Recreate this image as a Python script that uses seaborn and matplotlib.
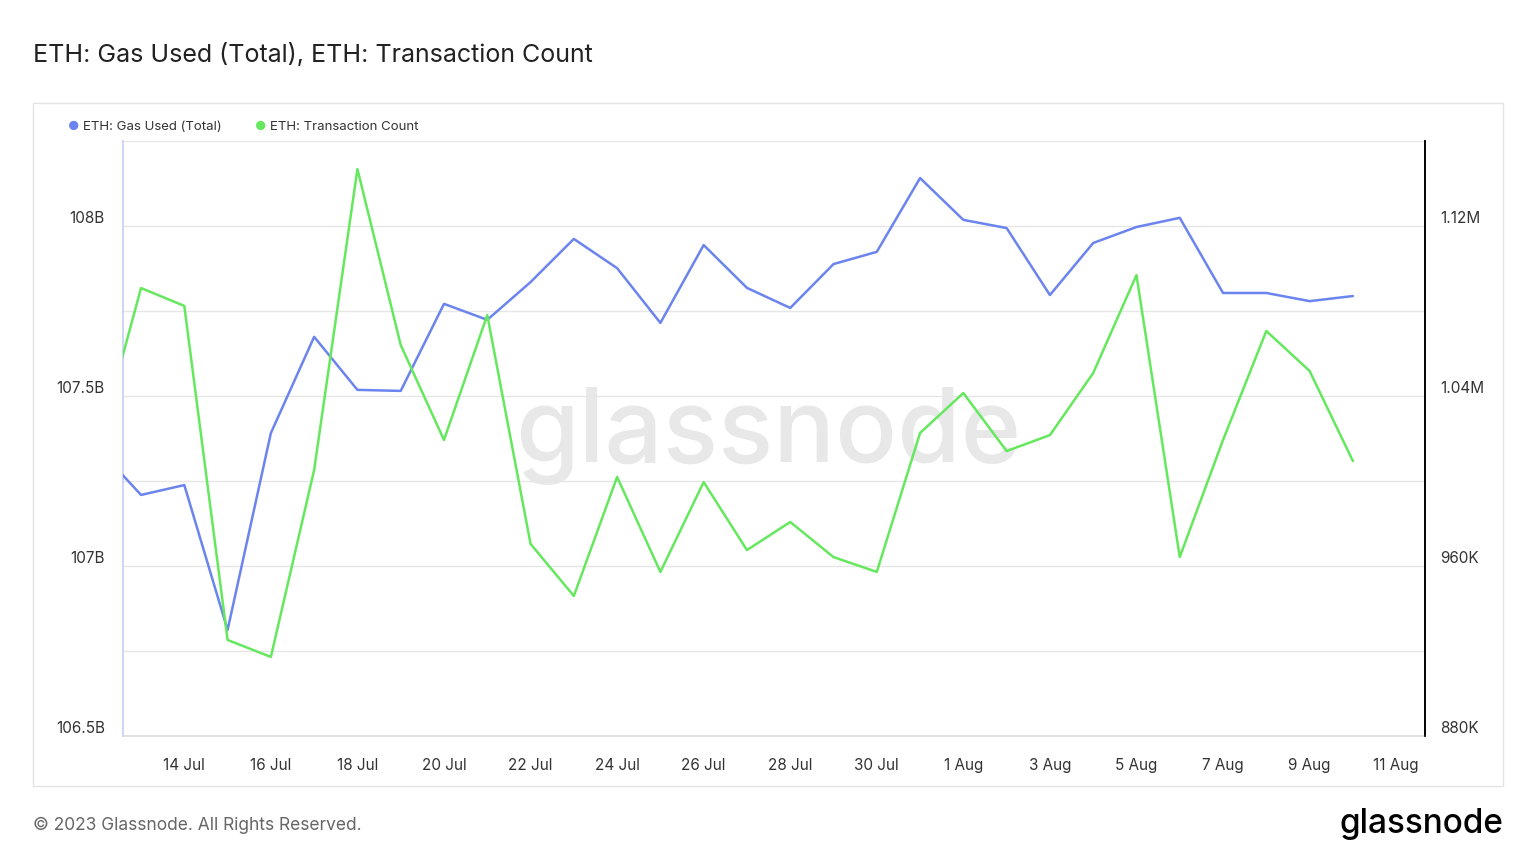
import numpy as np
import pandas as pd
import seaborn as sns
import matplotlib.pyplot as plt
import matplotlib.transforms as mtransforms
from matplotlib.patches import Rectangle

dates = pd.date_range("2023-07-12", "2023-08-10", freq="D")
gas_used_b = [107.347, 107.209, 107.238, 106.812, 107.391, 107.674, 107.518, 107.515,
              107.771, 107.724, 107.835, 107.962, 107.876, 107.715, 107.944, 107.818,
              107.759, 107.888, 107.924, 108.141, 108.018, 107.994, 107.797, 107.950,
              107.997, 108.024, 107.803, 107.803, 107.779, 107.794]
tx_count_k = [1015.5, 1090.8, 1082.4, 925.2, 917.2, 1005.2, 1146.8, 1064.0, 1019.3,
              1078.1, 970.4, 945.9, 1001.9, 957.2, 999.5, 967.5, 980.7, 964.2, 957.2,
              1022.6, 1041.4, 1014.1, 1021.6, 1050.8, 1096.9, 964.2, 1019.3, 1070.6,
              1051.8, 1009.4]
left_ticks = [106.5, 107, 107.5, 108]
left_labels = ["106.5B", "107B", "107.5B", "108B"]
right_ticks = [880, 960, 1040, 1120]
right_labels = ["880K", "960K", "1.04M", "1.12M"]

df = pd.DataFrame({"date": dates, "gas": gas_used_b, "tx": tx_count_k})

sns.set_theme(style="white")
plt.rcParams['font.family'] = ['Inter', 'DejaVu Sans']
blue, green = "#6b84ee", "#66e85e"

fig = plt.figure(figsize=(15.36, 8.64), dpi=100)
fig.patches.append(Rectangle((33 / 1536, 1 - 786 / 864), 1470 / 1536, 683 / 864,
                             transform=fig.transFigure, fill=False, ec="#e4e4e4", lw=1))
ax = fig.add_axes([123 / 1536, 1 - 736 / 864, 1302 / 1536, 595 / 864])
ax2 = ax.twinx()

ax.text(0.5, 0.495, "glassnode", transform=fig.transFigure, ha="center", va="center",
        fontsize=74, fontweight="medium", color="#e8e8e8", zorder=0)

sns.lineplot(data=df, x="date", y="gas", ax=ax, color=blue, lw=1.8, zorder=3)
sns.lineplot(data=df, x="date", y="tx", ax=ax2, color=green, lw=1.8, zorder=3)

ax.set_xlim(pd.Timestamp("2023-07-12 14:00"), pd.Timestamp("2023-08-11 16:00"))
ax.set_ylim(106.5, 108.25)
ax2.set_ylim(880, 1160)
grid_ticks = np.arange(106.5, 108.26, 0.25)
ax.set_yticks(grid_ticks)
ax.set_yticklabels([left_labels[left_ticks.index(t)] if t in left_ticks else "" for t in grid_ticks])
ax2.set_yticks(right_ticks)
ax2.set_yticklabels(right_labels)
ax.grid(axis="y", color="#e6e6e6", lw=1)
ax.tick_params(axis="y", length=0, pad=13, labelsize=11, colors="#333333")
ax2.tick_params(axis="y", length=0, pad=11, labelsize=11, colors="#333333")
shift = mtransforms.ScaledTranslation(0, 9 / 100, fig.dpi_scale_trans)
for lab in ax.get_yticklabels() + ax2.get_yticklabels():
    lab.set_transform(lab.get_transform() + shift)
ticks = pd.date_range("2023-07-14", "2023-08-11", freq="2D")
ax.set_xticks(ticks)
ax.set_xticklabels([f"{d.day} {d.strftime('%b')}" for d in ticks])
ax.tick_params(axis="x", length=8, color="#cccccc", labelsize=11, colors="#333333", pad=8)
for a in (ax, ax2):
    a.set_xlabel("")
    a.set_ylabel("")
    a.spines["top"].set_visible(False)
ax.spines["left"].set_color("#c8d0f4")
ax.spines["bottom"].set_color("#dddddd")
ax2.spines["left"].set_visible(False)
ax2.spines["bottom"].set_visible(False)
ax2.spines["right"].set_color("black")

fig.text(33 / 1536, 1 - 55 / 864, "ETH: Gas Used (Total), ETH: Transaction Count",
         fontsize=18, color="#222222", va="center")
fig.text(68 / 1536, 1 - 127 / 864, "●", color=blue, fontsize=9, va="center")
fig.text(83 / 1536, 1 - 127 / 864, "ETH: Gas Used (Total)", fontsize=9.5, color="#333333", va="center")
fig.text(255 / 1536, 1 - 127 / 864, "●", color=green, fontsize=9, va="center")
fig.text(270 / 1536, 1 - 127 / 864, "ETH: Transaction Count", fontsize=9.5, color="#333333", va="center")
fig.text(33 / 1536, 1 - 825 / 864, "© 2023 Glassnode. All Rights Reserved.", fontsize=12.5,
         color="#666666", va="center")
fig.text(1503 / 1536, 1 - 824 / 864, "glassnode", fontsize=24, fontweight="medium",
         color="black", ha="right", va="center")

fig.savefig("out.png", dpi=100)
